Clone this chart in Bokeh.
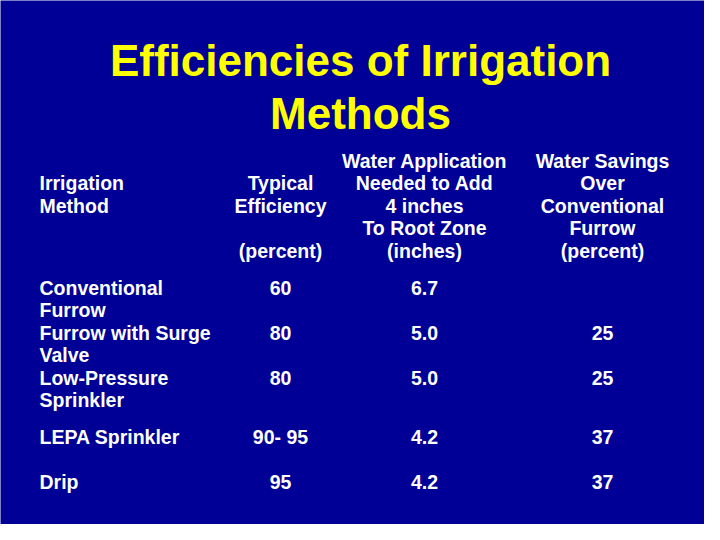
from bokeh.plotting import figure
from bokeh.models import Range1d
from bokeh.core.properties import value
from bokeh.embed import file_html
from bokeh.resources import INLINE

# ---- data ----
title_lines = ["Efficiencies of Irrigation", "Methods"]
col1_header = ["Irrigation", "Method"]
col2_header = ["Typical", "Efficiency", "", "(percent)"]
col3_header = ["Water Application", "Needed to Add", "4 inches", "To Root Zone", "(inches)"]
col4_header = ["Water Savings", "Over", "Conventional", "Furrow", "(percent)"]
methods = [["Conventional", "Furrow"], ["Furrow with Surge", "Valve"],
           ["Low-Pressure", "Sprinkler"], ["LEPA Sprinkler"], ["Drip"]]
efficiency = ["60", "80", "80", "90- 95", "95"]
water_needed = ["6.7", "5.0", "5.0", "4.2", "4.2"]
savings = ["", "25", "25", "37", "37"]

# ---- layout ----
W, H = 704, 524
OFF = 0
BG = "#000096"
FONT = value("Liberation Sans")
LH = 22.5
row_tops = [287, 332, 377, 436, 481]
col1_x, col2_x, col3_x, col4_x = 39, 280, 424, 602
head_top = 160

p = figure(width=W, height=H, x_range=Range1d(0, W), y_range=Range1d(H, 0),
           output_backend="svg", toolbar_location=None, min_border=0,
           background_fill_color=BG, border_fill_color=BG, outline_line_color=None)
p.axis.visible = False
p.grid.visible = False

def put(xs, ys, texts, align, size, color="white"):
    p.text(x=[x - OFF for x in xs], y=[y - OFF for y in ys], text=texts,
           text_align=align, text_baseline="middle", text_font=FONT,
           text_font_style="bold", text_font_size=size, text_color=color)

# title
put([360, 360], [60, 113], title_lines, "center", "44px", "#FFFF00")

# headers
put([col1_x] * 2, [head_top + LH, head_top + 2 * LH], col1_header, "left", "19.5px")
ys2 = [head_top + LH * (i + 1) for i in range(4)]
put([col2_x] * 4, ys2, col2_header, "center", "19.5px")
ys = [head_top + LH * i for i in range(5)]
put([col3_x] * 5, ys, col3_header, "center", "19.5px")
put([col4_x] * 5, ys, col4_header, "center", "19.5px")

# rows
mx, my, mt = [], [], []
for top, lines in zip(row_tops, methods):
    for i, ln in enumerate(lines):
        mx.append(col1_x); my.append(top + i * LH); mt.append(ln)
put(mx, my, mt, "left", "19.5px")
put([col2_x] * len(efficiency), row_tops, efficiency, "center", "19.5px")
put([col3_x] * len(water_needed), row_tops, water_needed, "center", "19.5px")
put([col4_x] * len(savings), row_tops, savings, "center", "19.5px")

open("out.html", "w").write(file_html(p, INLINE))
